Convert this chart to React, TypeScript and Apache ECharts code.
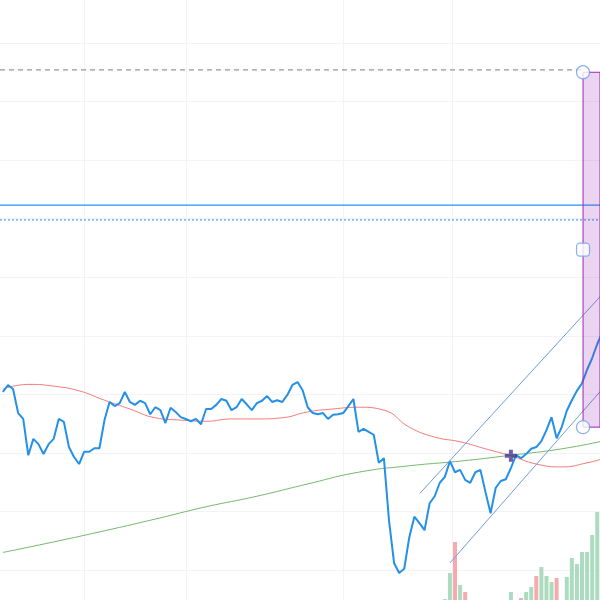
import React, { useEffect, useRef } from "react";
import * as echarts from "echarts";

// ---- scales (bar index on x, price on y) ----
const X_MIN = -0.57;
const X_MAX = 117.54;
const Y_MIN = -5.12;
const Y_MAX = 97.34;

// horizontal grid levels and vertical grid (month) positions
const priceGridLevels = [0, 10, 20, 30, 40, 50, 60, 70, 80, 90];
const timeGridTicks = [16, 36, 67, 88.4];

// closing prices, one per bar (index 0..118)
const closePrices = [
  30.4, 31.6, 30.9, 26.8, 25.8, 19.6, 22.4, 21.5, 19.8, 21.5,
  22.4, 25.8, 25.3, 21.0, 19.3, 18.1, 20.2, 20.2, 20.8, 20.8,
  25.6, 28.7, 28.0, 28.5, 30.4, 28.7, 28.2, 28.9, 28.5, 26.6,
  27.8, 27.3, 25.1, 27.7, 27.0, 26.1, 25.8, 25.4, 25.8, 24.9,
  27.5, 27.5, 28.2, 29.2, 28.9, 27.3, 27.8, 29.2, 28.3, 27.3,
  28.5, 28.9, 29.7, 28.7, 29.0, 28.7, 29.9, 31.6, 32.1, 30.7,
  27.8, 26.8, 26.6, 26.8, 25.8, 26.5, 26.6, 26.8, 28.0, 29.2,
  23.6, 24.1, 23.6, 23.1, 18.3, 19.1, 8.5, 1.2, -0.5, 0.2,
  5.6, 9.1, 8.0, 6.8, 11.4, 12.6, 14.9, 15.9, 18.6, 16.7,
  17.1, 15.4, 14.9, 16.7, 17.1, 13.3, 9.7, 14.0, 15.2, 15.5,
  17.4, 19.6, 19.1, 19.8, 20.7, 21.0, 22.0, 23.9, 26.1, 22.5,
  24.4, 27.2, 29.0, 30.6, 31.9, 34.2, 36.2, 38.6, 40.6,
];

// short moving average (red), read every 5 bars
const redMaIdx = [0, 5, 10, 15, 20, 25, 30, 35, 40, 45, 50, 55, 60, 65, 70, 75, 80, 85, 90, 95, 100, 105, 110, 115, 118];
const redMa = [30.9, 31.7, 31.4, 30.6, 29.0, 27.5, 26.0, 25.6, 25.4, 25.8, 25.8, 26.0, 27.0, 27.5, 27.8, 27.3, 24.4, 22.7, 21.9, 20.7, 19.5, 18.1, 17.6, 18.3, 19.0];

// long moving average (green), read every 10 bars
const greenMaIdx = [0, 10, 20, 30, 40, 50, 60, 70, 80, 90, 100, 110, 118];
const greenMa = [3.0, 4.8, 6.7, 8.7, 10.8, 12.6, 14.7, 16.7, 17.8, 18.6, 19.6, 20.7, 22.0];

// volume
const volIdx = [87, 88, 89, 90, 91, 100, 102, 103, 104, 105, 106, 107, 108, 109, 111, 112, 113, 114, 115, 116, 117];
const volValues = [10, 270, 580, 150, 80, 80, 20, 80, 130, 240, 330, 240, 180, 220, 230, 420, 360, 480, 480, 650, 880];
const volUp = [true, true, false, true, false, true, false, true, true, false, true, true, true, false, true, true, true, true, true, true, true];

// drawings (anchors in bar index / price)
const channelUpper = [[82.1, 13.1], [118, 47.1]];
const channelLower = [[88, 1.2], [118, 30.9]];
const dashedLevel = 85.4;
const dashedEndIdx = 114.2;
const solidLevel = 62.3;
const dottedLevel = 59.8;
const rangeLeftIdx = 114.2;
const rangeRightIdx = 125;
const rangeTop = 85.0;
const rangeBottom = 24.4;
const crossPoint = [100, 19.5];

const App: React.FC = () => {
  const ref = useRef<HTMLDivElement>(null);

  useEffect(() => {
    if (!ref.current) return;
    const chart = echarts.init(ref.current, undefined, { renderer: "svg" });
    const rangeMid = (rangeTop + rangeBottom) / 2;
    const handleStyle = { color: "#ffffff", borderColor: "#6a9ee8", borderWidth: 1.2 };

    const hLine = (level: number, x0: number, x1: number, lineStyle: any, z: number) => ({
      type: "line",
      z,
      silent: true,
      symbol: "none",
      color: lineStyle.color,
      lineStyle,
      data: [[x0, level], [x1, level]],
    });

    chart.setOption({
      animation: false,
      backgroundColor: "#ffffff",
      grid: { left: 0, right: 0, top: 0, bottom: 0 },
      xAxis: { type: "value", min: X_MIN, max: X_MAX, show: false },
      yAxis: [
        { type: "value", min: Y_MIN, max: Y_MAX, show: false },
        { type: "value", min: 0, max: 6000, show: false },
      ],
      series: [
        {
          type: "line",
          data: [],
          silent: true,
          z: 0,
          markLine: {
            z: 0,
            silent: true,
            symbol: "none",
            label: { show: false },
            lineStyle: { color: "#f2f3f7", width: 1, type: "solid" },
            data: [
              ...priceGridLevels.map((v) => ({ yAxis: v })),
              ...timeGridTicks.map((v) => ({ xAxis: v })),
            ],
          },
        },
        {
          type: "bar",
          yAxisIndex: 1,
          barWidth: 4,
          z: 1,
          silent: true,
          data: volIdx.map((k, i) => ({
            value: [k, volValues[i]],
            itemStyle: { color: volUp[i] ? "#acdcc0" : "#f5abad" },
          })),
        },
        {
          type: "line",
          z: 2,
          smooth: true,
          symbol: "none",
          lineStyle: { color: "#74b86c", width: 1 },
          data: greenMaIdx.map((k, i) => [k, greenMa[i]]),
        },
        {
          type: "line",
          z: 2,
          smooth: true,
          symbol: "none",
          lineStyle: { color: "#f47b7b", width: 1 },
          data: redMaIdx.map((k, i) => [k, redMa[i]]),
        },
        {
          type: "line",
          z: 3,
          symbol: "none",
          lineStyle: { color: "#2490e8", width: 2 },
          data: closePrices.map((v, k) => [k, v]),
        },
        {
          type: "line",
          z: 4,
          symbol: "none",
          lineStyle: { color: "#6d9ddc", width: 1 },
          data: channelUpper,
        },
        {
          type: "line",
          z: 4,
          symbol: "none",
          lineStyle: { color: "#6d9ddc", width: 1 },
          data: channelLower,
        },
        hLine(dashedLevel, X_MIN, dashedEndIdx, { color: "#787b86", width: 1, type: [5, 4] }, 4),
        hLine(solidLevel, X_MIN, X_MAX, { color: "#2196f3", width: 1.2, type: "solid" }, 4),
        hLine(dottedLevel, X_MIN, X_MAX, { color: "#4ea6f0", width: 1.2, type: [2, 2] }, 4),
        {
          type: "line",
          data: [],
          z: 5,
          silent: true,
          markArea: {
            z: 5,
            silent: true,
            itemStyle: { color: "rgba(156,39,176,0.2)", borderColor: "#9c27b0", borderWidth: 1 },
            data: [[{ coord: [rangeLeftIdx, rangeTop] }, { coord: [rangeRightIdx, rangeBottom] }]],
          },
        },
        {
          type: "scatter",
          z: 6,
          silent: true,
          symbol: "circle",
          symbolSize: 13,
          itemStyle: handleStyle,
          data: [[rangeLeftIdx, rangeTop], [rangeLeftIdx, rangeBottom]],
        },
        {
          type: "scatter",
          z: 6,
          silent: true,
          symbol: "roundRect",
          symbolSize: 13,
          itemStyle: handleStyle,
          data: [[rangeLeftIdx, rangeMid]],
        },
        {
          type: "scatter",
          z: 7,
          silent: true,
          symbol: "path://M4,0H8V4H12V8H8V12H4V8H0V4H4Z",
          symbolSize: 12,
          itemStyle: { color: "#453a8e" },
          data: [crossPoint],
        },
      ],
    });

    return () => chart.dispose();
  }, []);

  return (
    <div
      ref={ref}
      style={{ position: "fixed", left: 0, top: 0, width: 600, height: 600 }}
    />
  );
};

export default App;
